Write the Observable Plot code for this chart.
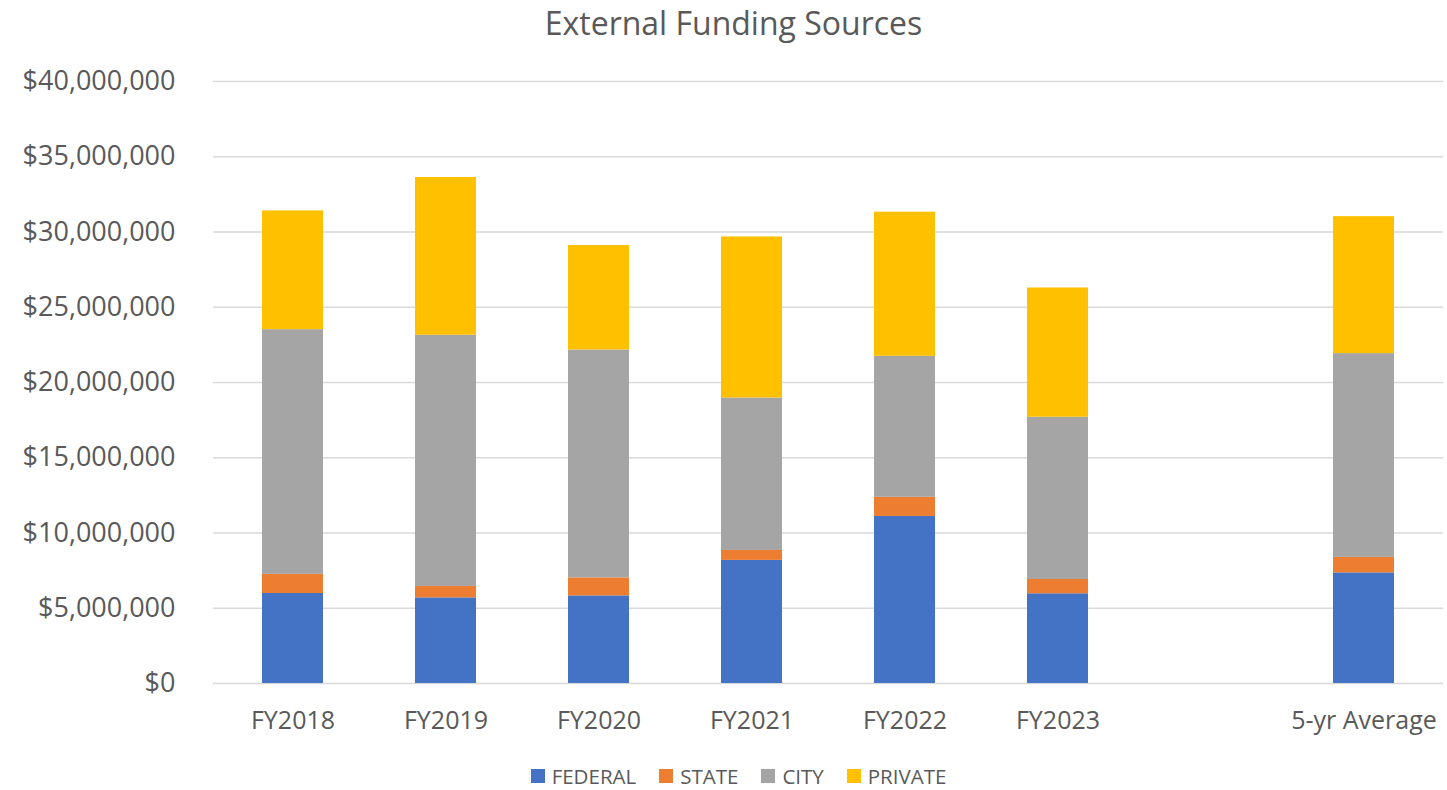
<!DOCTYPE html>
<html>
<head>
<meta charset="utf-8">
<script src="https://cdn.jsdelivr.net/npm/d3@7"></script>
<script src="https://cdn.jsdelivr.net/npm/@observablehq/plot@0.6"></script>
<style>
  body { margin: 0; background: #fff; font-family: "Open Sans", sans-serif; color: #595959; }
  #title { height: 45px; line-height: 46px; text-align: center; font-size: 32px; color: #595959; padding-left: 20px; }
  #chart svg { display: block; }
  #legend { display: flex; justify-content: center; gap: 23px; font-size: 20.5px; line-height: 26px; color: #595959; margin-top: 18px; margin-left: 30px; }
  .item { display: flex; align-items: center; gap: 7px; }
  .sw { width: 14px; height: 14px; display: inline-block; }
</style>
</head>
<body>
<div id="title">External Funding Sources</div>
<div id="chart"></div>
<div id="legend"></div>
<script>
const categories = ["FY2018", "FY2019", "FY2020", "FY2021", "FY2022", "FY2023", "5-yr Average"];
const series = ["FEDERAL", "STATE", "CITY", "PRIVATE"];
const colors = ["#4472C4", "#ED7D31", "#A5A5A5", "#FFC000"];
const federal = [5980000, 5690000, 5820000, 8180000, 11100000, 5960000, 7350000];
const state   = [1270000, 760000, 1200000, 660000, 1270000, 950000, 1030000];
const city    = [16260000, 16690000, 15140000, 10130000, 9370000, 10780000, 13540000];
const privateFunds = [7890000, 10480000, 6940000, 10700000, 9580000, 8590000, 9100000];
const yTicks = [0, 5000000, 10000000, 15000000, 20000000, 25000000, 30000000, 35000000, 40000000];

const seriesValues = [federal, state, city, privateFunds];
const rows = [];
categories.forEach((c, i) => {
  series.forEach((s, j) => rows.push({category: c, series: s, value: seriesValues[j][i]}));
});
const spacer = " ";
const xDomain = [...categories.slice(0, 6), spacer, categories[6]];

const chart = Plot.plot({
  width: 1447,
  height: 700,
  marginTop: 36,
  marginBottom: 62,
  marginLeft: 213,
  marginRight: 4,
  style: {fontFamily: "Open Sans, sans-serif", color: "#595959", background: "#fff"},
  x: {domain: xDomain, paddingInner: 0.6, paddingOuter: 0.3, label: null},
  y: {domain: [0, 40000000], label: null},
  color: {domain: series, range: colors},
  marks: [
    Plot.gridY(yTicks, {stroke: "#d9d9d9", strokeOpacity: 1, strokeWidth: 1.5}),
    Plot.barY(rows, {x: "category", y: "value", fill: "series"}),
    Plot.axisY({ticks: yTicks, tickFormat: d3.format("$,"), tickSize: 0, tickPadding: 38, fontSize: 27, fill: "#595959", label: null}),
    Plot.axisX({tickSize: 0, tickPadding: 28, fontSize: 25, fill: "#595959", label: null})
  ]
});
document.getElementById("chart").appendChild(chart);

const legend = document.getElementById("legend");
series.forEach((s, i) => {
  const it = document.createElement("div");
  it.className = "item";
  it.innerHTML = `<span class="sw" style="background:${colors[i]}"></span><span>${s}</span>`;
  legend.appendChild(it);
});
</script>
</body>
</html>
